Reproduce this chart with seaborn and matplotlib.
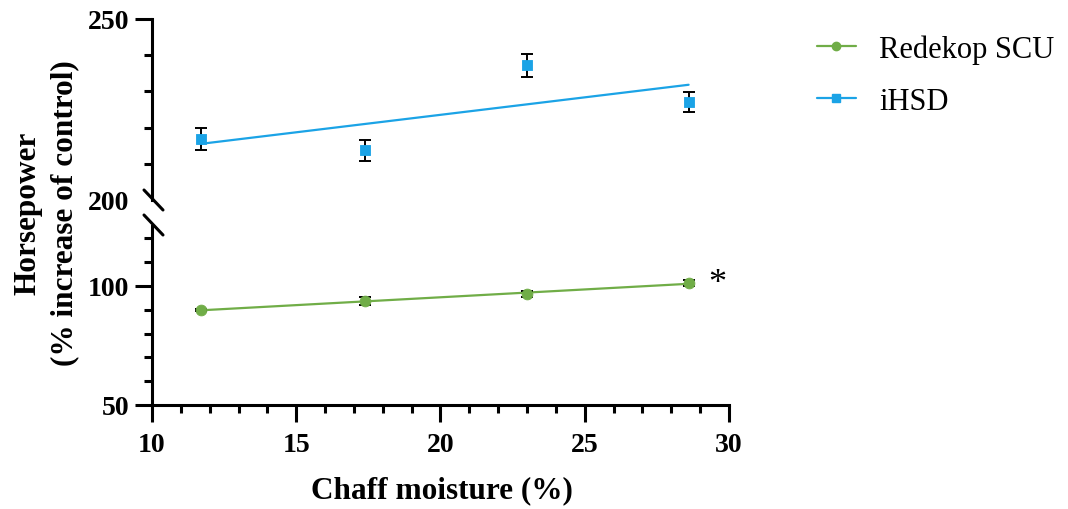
import matplotlib
matplotlib.use("Agg")
import matplotlib.pyplot as plt
import seaborn as sns
from matplotlib.lines import Line2D
from matplotlib.ticker import MultipleLocator, FixedLocator

# chaff moisture levels (%) and horsepower (% increase of control)
moisture = [11.7, 17.4, 23.0, 28.6]
redekop_hp = [89.9, 93.7, 96.6, 101.3]
redekop_err = [0.5, 1.5, 1.2, 1.4]
ihsd_hp = [216.8, 213.7, 237.2, 227.1]
ihsd_err = [3.0, 2.8, 3.2, 2.8]
series_names = ["Redekop SCU", "iHSD"]

green = "#70AD47"
blue = "#1BA3E6"

sns.set_style("ticks")
plt.rcParams['font.family'] = ['Liberation Serif', 'DejaVu Serif']
plt.rcParams['axes.linewidth'] = 2.2
for key in ('text.color', 'axes.labelcolor', 'axes.edgecolor', 'xtick.color', 'ytick.color'):
    plt.rcParams[key] = 'black'

fig = plt.figure(figsize=(10.68, 5.1), dpi=100)
W, H = 1068, 510
left, right = 152 / W, 729 / W
ax_hi = fig.add_axes([left, 1 - 201 / H, right - left, (201 - 20) / H])
ax_lo = fig.add_axes([left, 1 - 406 / H, right - left, (406 - 227.5) / H])

# upper segment: iHSD
sns.regplot(x=moisture, y=ihsd_hp, ax=ax_hi, scatter=False, ci=None,
            truncate=True, color=blue, line_kws=dict(lw=1.6))
ax_hi.errorbar(moisture, ihsd_hp, yerr=ihsd_err, fmt='none', ecolor='black',
               elinewidth=1.4, capsize=4, capthick=1.4, zorder=3)
sns.scatterplot(x=moisture, y=ihsd_hp, ax=ax_hi, color=blue, marker='s',
                s=60, edgecolor=blue, zorder=4)

# lower segment: Redekop SCU
sns.regplot(x=moisture, y=redekop_hp, ax=ax_lo, scatter=False, ci=None,
            truncate=True, color=green, line_kws=dict(lw=1.6))
ax_lo.errorbar(moisture, redekop_hp, yerr=redekop_err, fmt='none', ecolor='black',
               elinewidth=1.4, capsize=4, capthick=1.4, zorder=3)
sns.scatterplot(x=moisture, y=redekop_hp, ax=ax_lo, color=green, marker='o',
                s=60, edgecolor=green, zorder=4)
ax_lo.text(29.6, 101.0, "*", fontsize=26, ha='center', va='center')

for ax in (ax_hi, ax_lo):
    ax.set_xlim(10, 30)
    ax.spines['top'].set_visible(False)
    ax.spines['right'].set_visible(False)
    ax.tick_params(axis='both', which='major', length=12.5, width=2.2,
                   labelsize=20, pad=4)
    ax.tick_params(axis='both', which='minor', length=6, width=2.2)
    ax.set_xlabel("")
    ax.set_ylabel("")

ax_hi.set_ylim(200, 250)
ax_hi.yaxis.set_major_locator(FixedLocator([200, 250]))
ax_hi.yaxis.set_minor_locator(FixedLocator([210, 220, 230, 240]))
ax_hi.spines['bottom'].set_visible(False)
ax_hi.tick_params(axis='x', which='both', bottom=False, labelbottom=False)
ax_hi.yaxis.get_major_ticks()[0].tick1line.set_visible(False)
for lab in ax_hi.get_yticklabels():
    lab.set_fontweight('bold')

ax_lo.set_ylim(50, 125)
ax_lo.yaxis.set_major_locator(FixedLocator([50, 100]))
ax_lo.yaxis.set_minor_locator(FixedLocator([60, 70, 80, 90, 110, 120]))
ax_lo.xaxis.set_major_locator(MultipleLocator(5))
ax_lo.xaxis.set_minor_locator(MultipleLocator(1))
ax_lo.tick_params(axis='x', which='major', pad=7)
for lab in ax_lo.get_yticklabels() + ax_lo.get_xticklabels():
    lab.set_fontweight('bold')

# axis break marks
for yc in (201, 226):
    fig.add_artist(Line2D([144 / W, 163 / W], [1 - (yc - 10) / H, 1 - (yc + 10) / H],
                          color='black', lw=2.2))

fig.text(442 / W, 1 - 491 / H, "Chaff moisture (%)", ha='center', va='center',
         fontsize=22.5, fontweight='bold')
fig.text(46 / W, 1 - 213 / H, "Horsepower\n(% increase of control)", ha='center',
         va='center', rotation=90, fontsize=22.5, fontweight='bold', linespacing=1.35)

handles = [Line2D([], [], color=green, marker='o', markersize=6, lw=1.6),
           Line2D([], [], color=blue, marker='s', markersize=6, lw=1.6)]
fig.legend(handles, series_names, loc='upper left', bbox_to_anchor=(789 / W, 1 - 8 / H),
           frameon=False, fontsize=22, handlelength=1.3, handletextpad=0.75,
           labelspacing=0.75)

fig.savefig("out.png", dpi=100)
